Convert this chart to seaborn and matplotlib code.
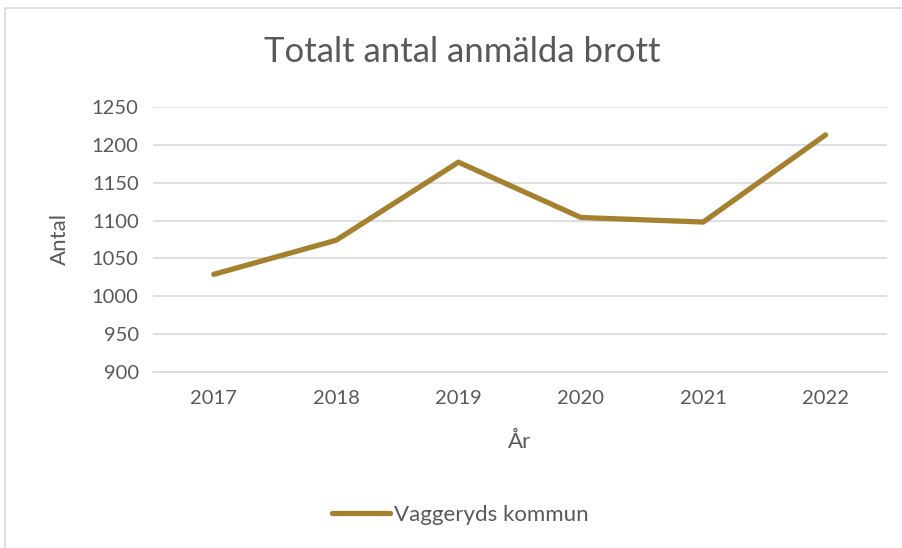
import pandas as pd
import matplotlib.pyplot as plt
import seaborn as sns
from matplotlib.patches import Rectangle

# data
years = ["2017", "2018", "2019", "2020", "2021", "2022"]
antal = [1029, 1074, 1177, 1104, 1098, 1213]
series_name = "Vaggeryds kommun"

df = pd.DataFrame({"År": years, "Antal": antal, "Serie": series_name})

sns.set_theme(style="white")
plt.rcParams['font.family'] = ['Lato', 'DejaVu Sans']
text_col = "#595959"
grid_col = "#D9D9D9"
line_col = "#A5802F"

fig = plt.figure(figsize=(9.03, 5.48), dpi=100)
ax = fig.add_axes([0.169, 0.321, 0.813, 0.484])

sns.lineplot(data=df, x="År", y="Antal", hue="Serie", palette=[line_col],
             linewidth=3.8, ax=ax, sort=False)

ax.set_xlim(-0.5, 5.5)
ax.set_ylim(900, 1250)
ax.set_yticks(range(900, 1251, 50))
ax.yaxis.grid(True, color=grid_col, linewidth=1.2)
ax.xaxis.grid(False)
for s in ["top", "right", "left"]:
    ax.spines[s].set_visible(False)
ax.spines["bottom"].set_color(grid_col)
ax.spines["bottom"].set_linewidth(1.2)
ax.tick_params(axis="both", length=0, labelsize=14.5, labelcolor=text_col, pad=10)
ax.tick_params(axis="x", pad=13)

ax.set_xlabel("År", fontsize=16, color=text_col, labelpad=18)
ax.set_ylabel("Antal", fontsize=16, color=text_col, labelpad=16)
fig.text(0.512, 0.905, "Totalt antal anmälda brott", ha="center", va="center",
         fontsize=25, color=text_col)

ax.legend(loc="center", bbox_to_anchor=(0.51, 0.06), bbox_transform=fig.transFigure,
          frameon=False, fontsize=16, labelcolor=text_col, handlelength=2.6,
          handletextpad=0.2)

fig.patches.append(Rectangle((0.006, -0.01), 1.0, 0.995, transform=fig.transFigure,
                             fill=False, edgecolor=grid_col, linewidth=1.2))

plt.savefig("out.png", dpi=100)
